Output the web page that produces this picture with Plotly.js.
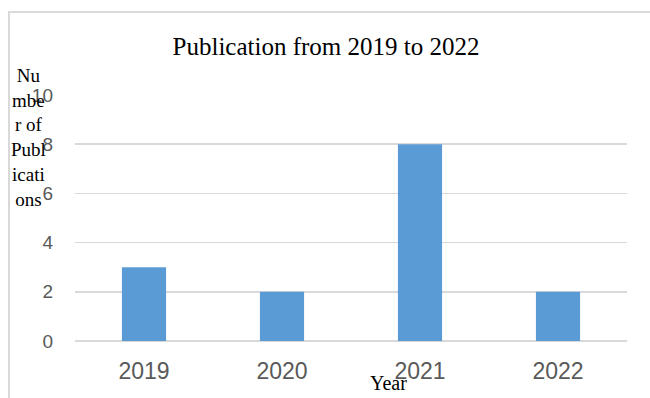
<!DOCTYPE html>
<html>
<head>
<meta charset="utf-8">
<script src="https://cdn.plot.ly/plotly-3.0.1.min.js"></script>
<style>html,body{margin:0;padding:0;background:#fff;}#chart{width:650px;height:398px;}</style>
</head>
<body>
<div id="chart"></div>
<script>
var years = ['2019', '2020', '2021', '2022'];
var publications = [3, 2, 8, 2];
var yTicks = [0, 2, 4, 6, 8, 10];
var chartTitle = 'Publication from 2019 to 2022';
var yTitle = 'Nu<br>mbe<br>r of<br>Publ<br>icati<br>ons';
var xTitle = 'Year';

var L = 75, R = 23, T = 95, B = 57, W = 650, H = 398;
var pw = W - L - R, ph = H - T - B;

var trace = {
  type: 'bar',
  x: years,
  y: publications,
  marker: {color: '#5B9BD5'},
  hoverinfo: 'none'
};

var layout = {
  width: W, height: H,
  margin: {l: L, r: R, t: T, b: B, pad: 0},
  paper_bgcolor: '#ffffff',
  plot_bgcolor: '#ffffff',
  showlegend: false,
  bargap: 0.68,
  title: {
    text: chartTitle,
    font: {family: 'Liberation Serif, Times New Roman, serif', size: 25, color: '#000'},
    x: 326 / W, xanchor: 'center', xref: 'container',
    y: 1 - 46 / H, yanchor: 'middle', yref: 'container'
  },
  xaxis: {
    type: 'category',
    showgrid: false,
    showline: false,
    zeroline: false,
    ticks: '',
    ticklabelstandoff: 14,
    tickfont: {family: 'Liberation Sans, Arial, sans-serif', size: 23, color: '#595959'}
  },
  yaxis: {
    range: [0, 10],
    tickvals: yTicks,
    showgrid: true,
    gridcolor: '#d9d9d9',
    gridwidth: 1.5,
    zeroline: true,
    zerolinecolor: '#d9d9d9',
    zerolinewidth: 1.5,
    showline: false,
    ticks: '',
    ticklabelstandoff: 21,
    tickfont: {family: 'Liberation Sans, Arial, sans-serif', size: 19, color: '#595959'}
  },
  annotations: [
    {
      text: yTitle, showarrow: false,
      xref: 'paper', yref: 'paper',
      x: (28 - L) / pw, y: 1 + (T - 63) / ph,
      xanchor: 'center', yanchor: 'top', align: 'center',
      font: {family: 'Liberation Serif, Times New Roman, serif', size: 19, color: '#000'}
    },
    {
      text: xTitle, showarrow: false,
      xref: 'paper', yref: 'paper',
      x: (388 - L) / pw, y: -(383 - (T + ph)) / ph,
      xanchor: 'center', yanchor: 'middle',
      font: {family: 'Liberation Serif, Times New Roman, serif', size: 20, color: '#000'}
    }
  ],
  shapes: [
    {
      type: 'rect', xref: 'paper', yref: 'paper',
      x0: (9 - L) / pw, x1: (660 - L) / pw,
      y0: -(410 - (T + ph)) / ph, y1: 1 + (T - 12) / ph,
      line: {color: '#d9d9d9', width: 2},
      fillcolor: 'rgba(0,0,0,0)',
      layer: 'below'
    }
  ]
};

Plotly.newPlot('chart', [trace], layout, {displayModeBar: false, staticPlot: true});
</script>
</body>
</html>
